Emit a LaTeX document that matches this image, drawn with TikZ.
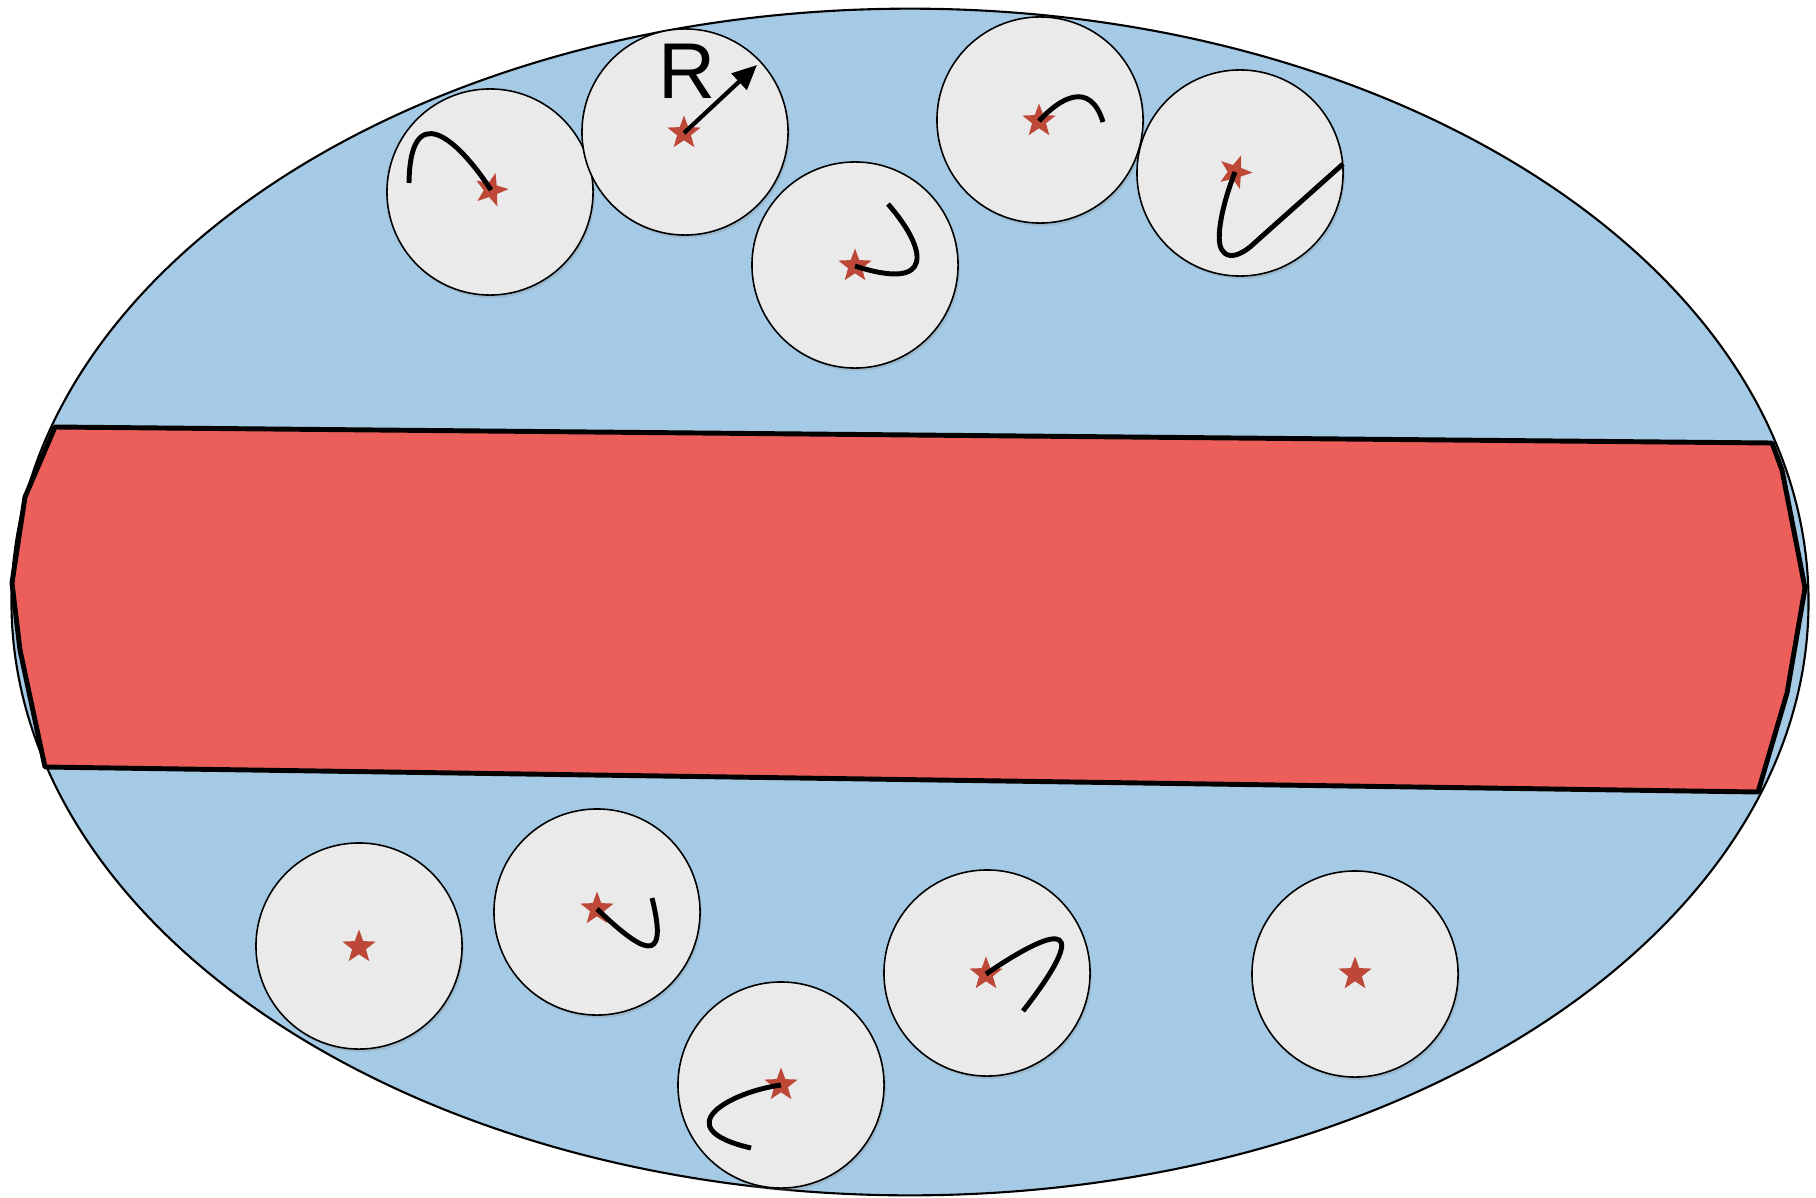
\documentclass[tikz,border=0pt]{standalone}
\usepackage{fontspec}
\setmainfont{Liberation Sans}
\usepackage{tikz}
\usetikzlibrary{arrows.meta,shapes.geometric,shadows}
\definecolor{fluid}{RGB}{164,202,229}
\definecolor{jet}{RGB}{235,94,89}
\definecolor{grain}{RGB}{234,234,234}
\definecolor{seedred}{RGB}{190,72,56}

\begin{document}
\begin{tikzpicture}[
  x=0.01cm, y=-0.01cm,
  cell/.style={circle, draw=black, line width=0.45pt, fill=grain, minimum size=2.06cm, inner sep=0pt,
    drop shadow={shadow xshift=0.5pt, shadow yshift=-0.8pt, opacity=0.25}},
  seed/.style={star, star points=5, star point ratio=2.4, fill=seedred, draw=none, minimum size=0.35cm, inner sep=0pt},
  track/.style={line width=1.4pt, black},
  arr/.style={-{Triangle[length=7pt,width=6.2pt]}, line width=1.2pt},
]
\useasboundingbox (0,0) rectangle (1816,1197);
\fill[white] (0,0) rectangle (1816,1197);
% vessel and band
\draw[fill=fluid, line width=0.6pt] (910,602) ellipse [x radius=8.98cm, y radius=5.93cm];
\draw[fill=jet, line width=1.4pt, line join=round] (55,427) -- (1772,443) -- (1782,470) -- (1805,588) -- (1787,693)
  -- (1758,792) -- (45,767) -- (20,650) -- (12,583) -- (25,497) -- cycle;
% particles, upper row
\node[cell] (c1) at (490,192) {};
\node[cell] (c2) at (685,132) {};
\node[cell] (c3) at (855,265) {};
\node[cell] (c4) at (1040,120) {};
\node[cell] (c5) at (1240,173) {};
% particles, lower row
\node[cell] (c6) at (359,946) {};
\node[cell] (c7) at (597,912) {};
\node[cell] (c8) at (781,1085) {};
\node[cell] (c9) at (987,973) {};
\node[cell] (c10) at (1355,974) {};
% centres
\node[seed, rotate=-15] (s1) at (491,190) {};
\node[seed] (s2) at (684,133) {};
\node[seed] (s3) at (855,266) {};
\node[seed] (s4) at (1039,121) {};
\node[seed, rotate=-20] (s5) at (1235,172) {};
\node[seed] (s6) at (359,947) {};
\node[seed] (s7) at (597,909) {};
\node[seed] (s8) at (781,1085) {};
\node[seed] (s9) at (986,974) {};
\node[seed] (s10) at (1355,974) {};
% paths
\draw[track] (s1.center) .. controls (455,135) and (410,100) .. (409,183);
\draw[track] (s3.center) .. controls (935,292) and (928,250) .. (888,204);
\draw[track] (s4.center) .. controls (1060,98) and (1090,80) .. (1103,122);
\draw[track] (s5.center) .. controls (1222,205) and (1215,240) .. (1222,250) .. controls (1228,260) and (1240,255) .. (1250,247) -- (1343,164);
\draw[track] (s7.center) .. controls (640,950) and (670,970) .. (652,898);
\draw[track] (s8.center) .. controls (730,1092) and (665,1128) .. (751,1148);
\draw[track] (s9.center) .. controls (1065,920) and (1090,925) .. (1023,1011);
% radius
\coordinate (rtip) at (757,65);
\draw[arr] (s2.center) -- (rtip);
\node[inner sep=0pt, font=\fontsize{22.5}{26}\selectfont] (rlabel) at (687,71) {R};
\end{tikzpicture}
\end{document}
